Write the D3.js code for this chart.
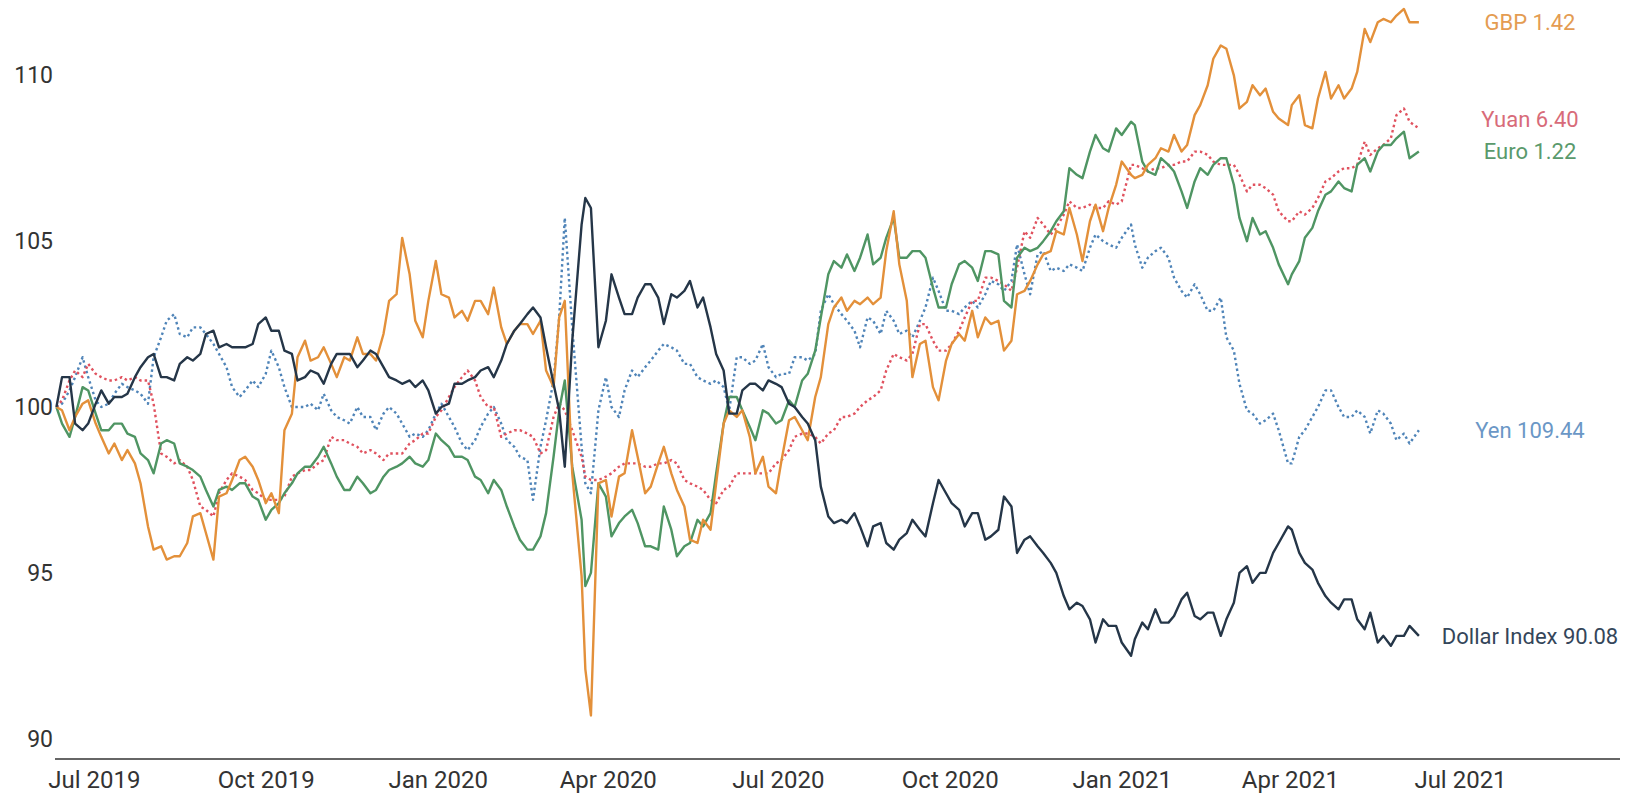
<!DOCTYPE html>
<html>
<head>
<meta charset="utf-8">
<script src="https://cdn.jsdelivr.net/npm/d3@7"></script>
<style>
  body { margin: 0; background: #fff; }
  svg text { font-family: "Source Sans Pro", Roboto, "Noto Sans", sans-serif; }
</style>
</head>
<body>
<script>
// sample dates: Tuesdays and Fridays, plus a few extra days around the big moves
var dates = [
  '2019-06-11',
  '2019-06-14',
  '2019-06-18', '2019-06-21', '2019-06-25', '2019-06-28', '2019-07-02', '2019-07-05', '2019-07-09', '2019-07-12', '2019-07-16', '2019-07-19', '2019-07-23', '2019-07-26',
  '2019-07-30', '2019-08-02', '2019-08-06', '2019-08-09', '2019-08-13', '2019-08-16', '2019-08-20', '2019-08-23', '2019-08-27', '2019-08-30',
  '2019-09-03', '2019-09-06', '2019-09-10', '2019-09-13', '2019-09-17', '2019-09-20', '2019-09-24', '2019-09-27',
  '2019-10-01', '2019-10-04', '2019-10-08', '2019-10-11', '2019-10-15', '2019-10-18', '2019-10-22', '2019-10-25',
  '2019-10-29', '2019-11-01', '2019-11-05', '2019-11-08', '2019-11-12', '2019-11-15', '2019-11-19', '2019-11-22', '2019-11-26', '2019-11-29',
  '2019-12-03', '2019-12-06', '2019-12-10', '2019-12-13', '2019-12-17', '2019-12-20', '2019-12-24', '2019-12-27', '2019-12-31',
  '2020-01-03', '2020-01-07', '2020-01-10', '2020-01-14', '2020-01-17', '2020-01-21', '2020-01-24', '2020-01-28', '2020-01-31',
  '2020-02-04', '2020-02-07', '2020-02-11', '2020-02-14', '2020-02-18', '2020-02-21', '2020-02-25', '2020-02-28',
  '2020-03-03', '2020-03-06', '2020-03-09', '2020-03-13', '2020-03-18', '2020-03-20', '2020-03-23', '2020-03-27',
  '2020-03-31', '2020-04-03', '2020-04-07', '2020-04-10', '2020-04-14', '2020-04-17', '2020-04-21', '2020-04-24',
  '2020-04-28', '2020-05-01', '2020-05-05', '2020-05-08', '2020-05-12', '2020-05-15', '2020-05-19', '2020-05-22', '2020-05-26', '2020-05-29',
  '2020-06-02', '2020-06-05', '2020-06-09', '2020-06-12', '2020-06-16', '2020-06-19', '2020-06-23', '2020-06-26',
  '2020-06-30', '2020-07-03', '2020-07-07', '2020-07-10', '2020-07-14', '2020-07-17', '2020-07-21', '2020-07-24', '2020-07-28', '2020-07-31',
  '2020-08-04', '2020-08-07', '2020-08-11', '2020-08-14', '2020-08-18', '2020-08-21', '2020-08-25', '2020-08-28',
  '2020-09-01', '2020-09-04', '2020-09-08', '2020-09-11', '2020-09-15', '2020-09-18', '2020-09-22', '2020-09-25',
  '2020-09-29', '2020-10-02', '2020-10-06', '2020-10-09', '2020-10-13', '2020-10-16', '2020-10-20', '2020-10-23', '2020-10-27', '2020-10-30',
  '2020-11-03', '2020-11-06', '2020-11-10', '2020-11-13', '2020-11-17', '2020-11-20', '2020-11-24', '2020-11-27',
  '2020-12-01', '2020-12-04', '2020-12-08', '2020-12-11', '2020-12-15', '2020-12-18', '2020-12-22', '2020-12-25', '2020-12-29',
  '2021-01-01', '2021-01-06', '2021-01-08', '2021-01-12', '2021-01-15', '2021-01-19', '2021-01-22', '2021-01-26', '2021-01-29',
  '2021-02-02', '2021-02-05', '2021-02-09', '2021-02-12', '2021-02-16', '2021-02-19', '2021-02-23', '2021-02-26',
  '2021-03-02', '2021-03-05', '2021-03-09', '2021-03-12', '2021-03-16', '2021-03-19', '2021-03-23', '2021-03-26', '2021-03-31',
  '2021-04-02', '2021-04-06', '2021-04-09', '2021-04-13', '2021-04-16', '2021-04-20', '2021-04-23', '2021-04-27', '2021-04-30',
  '2021-05-04', '2021-05-07', '2021-05-11', '2021-05-14', '2021-05-18', '2021-05-21', '2021-05-25', '2021-05-28',
  '2021-06-01', '2021-06-04', '2021-06-09'
];

// all series indexed to 100 at the start
var dollar = [
  100,
  100.9,
  100.9, 99.5, 99.3, 99.5, 100.1, 100.5, 100.1, 100.3, 100.3, 100.4, 100.9, 101.2,
  101.5, 101.6, 100.9, 100.9, 100.8, 101.3, 101.5, 101.4, 101.6, 102.2,
  102.3, 101.8, 101.9, 101.8, 101.8, 101.8, 101.9, 102.5,
  102.7, 102.3, 102.3, 101.7, 101.6, 100.8, 100.9, 101.1,
  101.0, 100.7, 101.3, 101.6, 101.6, 101.6, 101.2, 101.4, 101.7, 101.6,
  101.2, 100.9, 100.8, 100.7, 100.8, 100.6, 100.8, 100.5, 99.8,
  100.0, 100.1, 100.7, 100.7, 100.8, 100.9, 101.1, 101.2, 100.9,
  101.4, 101.9, 102.3, 102.5, 102.8, 103.0, 102.7, 101.8,
  100.7, 99.9, 98.2, 102.0, 105.5, 106.3, 106.0, 101.8,
  102.6, 104.0, 103.3, 102.8, 102.8, 103.3, 103.7, 103.7,
  103.3, 102.5, 103.4, 103.3, 103.5, 103.8, 103.0, 103.3, 102.4, 101.6,
  101.1, 99.8, 99.8, 100.5, 100.7, 100.7, 100.5, 100.8,
  100.7, 100.6, 100.1, 100.0, 99.7, 99.5, 99.0, 97.6, 96.7, 96.5,
  96.6, 96.5, 96.8, 96.4, 95.8, 96.4, 96.5, 95.9,
  95.7, 96.0, 96.2, 96.6, 96.3, 96.1, 97.1, 97.8,
  97.4, 97.1, 96.9, 96.4, 96.8, 96.8, 96.0, 96.1, 96.3, 97.3,
  97.0, 95.6, 96.0, 96.1, 95.8, 95.6, 95.3, 95.0,
  94.3, 93.9, 94.1, 94.0, 93.6, 92.9, 93.6, 93.4, 93.4,
  92.9, 92.5, 93.0, 93.5, 93.3, 93.9, 93.5, 93.5, 93.7,
  94.2, 94.4, 93.7, 93.6, 93.8, 93.8, 93.1, 93.6,
  94.1, 95.0, 95.2, 94.7, 95.0, 95.0, 95.6, 95.9, 96.4,
  96.3, 95.6, 95.3, 95.1, 94.7, 94.3, 94.1, 93.9, 94.2,
  94.2, 93.6, 93.3, 93.8, 92.9, 93.1, 92.8, 93.1,
  93.1, 93.4, 93.1
];

var gbp = [
  100,
  99.9,
  99.3, 99.7, 100.1, 100.2, 99.5, 99.1, 98.6, 98.9, 98.4, 98.7, 98.3, 97.7,
  96.4, 95.7, 95.8, 95.4, 95.5, 95.5, 95.9, 96.7, 96.8, 96.2,
  95.4, 97.3, 97.4, 97.8, 98.4, 98.5, 98.2, 97.8,
  97.1, 97.4, 96.8, 99.3, 99.8, 101.5, 102.0, 101.4,
  101.5, 101.8, 101.3, 100.9, 101.5, 101.4, 102.1, 101.6, 101.6, 101.4,
  102.2, 103.2, 103.4, 105.1, 104.0, 102.6, 102.1, 103.2, 104.4,
  103.4, 103.3, 102.7, 102.9, 102.6, 103.2, 103.2, 102.8, 103.6,
  102.4, 101.9, 102.3, 102.5, 102.5, 102.2, 102.6, 101.1,
  100.6, 102.7, 103.2, 98.0, 94.9, 92.1, 90.7, 97.7,
  97.8, 96.7, 97.9, 98.0, 99.3, 98.5, 97.4, 97.6,
  98.3, 98.8, 98.0, 97.5, 97.0, 96.0, 95.9, 96.6, 96.3, 97.7,
  99.5, 99.9, 99.7, 99.9, 99.1, 98.0, 98.5, 97.6,
  97.4, 98.4, 99.6, 99.7, 99.3, 99.0, 100.3, 100.9, 102.5, 103.0,
  103.3, 102.9, 103.2, 103.1, 103.3, 103.1, 103.3, 104.7,
  105.9, 104.3, 103.2, 100.9, 101.9, 102.0, 100.6, 100.2,
  101.4, 101.9, 102.2, 102.0, 102.9, 102.1, 102.7, 102.5, 102.6, 101.7,
  102.0, 103.4, 103.5, 103.8, 104.3, 104.6, 104.7, 105.3,
  105.2, 106.0, 105.2, 104.4, 105.6, 106.1, 105.3, 106.0, 106.7,
  107.4, 107.0, 106.9, 107.0, 107.3, 107.5, 107.8, 107.7, 108.2,
  107.7, 107.9, 108.8, 109.1, 109.7, 110.5, 110.9, 110.8,
  110.0, 109.0, 109.2, 109.7, 109.4, 109.6, 108.9, 108.7, 108.5,
  109.1, 109.4, 108.5, 108.4, 109.3, 110.1, 109.3, 109.7, 109.3,
  109.6, 110.1, 111.4, 111.0, 111.6, 111.7, 111.6, 111.8,
  112.0, 111.6, 111.6
];

var euro = [
  100,
  99.5,
  99.1, 99.7, 100.6, 100.5, 99.8, 99.3, 99.3, 99.5, 99.5, 99.2, 99.1, 98.6,
  98.4, 98.0, 98.9, 99.0, 98.9, 98.3, 98.2, 98.1, 97.9, 97.5,
  97.0, 97.5, 97.6, 97.5, 97.7, 97.7, 97.3, 97.2,
  96.6, 96.9, 97.1, 97.4, 97.7, 98.0, 98.2, 98.2,
  98.5, 98.8, 98.3, 97.9, 97.5, 97.5, 97.9, 97.7, 97.4, 97.5,
  97.9, 98.1, 98.2, 98.3, 98.5, 98.3, 98.2, 98.4, 99.2,
  99.0, 98.8, 98.5, 98.5, 98.4, 97.9, 97.8, 97.4, 97.8,
  97.5, 97.0, 96.4, 96.0, 95.7, 95.7, 96.1, 96.8,
  98.5, 99.9, 100.8, 98.2, 96.6, 94.6, 95.0, 97.7,
  97.3, 96.1, 96.5, 96.7, 96.9, 96.5, 95.8, 95.8,
  95.7, 97.0, 96.3, 95.5, 95.8, 95.9, 96.6, 96.4, 96.8, 98.0,
  99.5, 100.3, 100.3, 99.9, 99.4, 99.0, 99.9, 99.8,
  99.5, 99.6, 100.2, 100.0, 100.8, 101.0, 101.7, 102.7, 104.0, 104.4,
  104.2, 104.6, 104.1, 104.5, 105.2, 104.3, 104.5, 105.1,
  105.7, 104.5, 104.5, 104.7, 104.7, 104.5, 103.6, 103.0,
  103.0, 103.7, 104.3, 104.4, 104.2, 103.8, 104.7, 104.7, 104.6, 103.2,
  103.0, 104.5, 104.8, 104.7, 104.8, 105.0, 105.3, 105.6,
  105.9, 107.2, 107.0, 106.9, 107.7, 108.2, 107.8, 107.7, 108.4,
  108.2, 108.6, 108.5, 107.4, 107.1, 107.0, 107.5, 107.3, 107.1,
  106.5, 106.0, 106.8, 107.2, 107.0, 107.3, 107.5, 107.5,
  106.7, 105.7, 105.0, 105.7, 105.2, 105.3, 104.8, 104.3, 103.7,
  104.0, 104.4, 105.1, 105.4, 105.9, 106.4, 106.5, 106.8, 106.6,
  106.5, 107.3, 107.5, 107.1, 107.7, 107.9, 107.9, 108.1,
  108.3, 107.5, 107.7
];

var yuan = [
  100,
  100.2,
  100.8, 101.1, 100.9, 101.3, 101.0, 100.9, 100.8, 100.8, 100.9, 100.8, 100.9, 100.8,
  100.8, 100.1, 98.6, 98.5, 98.3, 98.4, 98.2, 97.8, 97.0, 96.9,
  96.7, 97.4, 97.8, 98.0, 97.9, 97.8, 97.5, 97.4,
  97.2, 97.2, 97.2, 97.3, 97.9, 98.0, 98.1, 98.1,
  98.3, 98.4, 99.1, 99.0, 99.0, 98.9, 98.8, 98.6, 98.7, 98.6,
  98.4, 98.6, 98.6, 98.6, 98.9, 99.0, 99.2, 99.2, 99.7,
  99.9, 100.3, 100.6, 100.9, 101.1, 100.8, 100.3, 100.0, 100.0,
  99.1, 99.2, 99.3, 99.3, 99.2, 99.1, 98.6, 98.7,
  99.7, 100.1, 99.9, 99.3, 98.5, 97.9, 97.8, 97.8,
  97.9, 98.0, 98.2, 98.3, 98.3, 98.3, 98.2, 98.2,
  98.3, 98.3, 98.4, 98.3, 97.8, 97.7, 97.6, 97.5, 97.2, 97.1,
  97.5, 97.6, 98.0, 98.0, 98.0, 98.0, 98.0, 98.0,
  98.3, 98.4, 98.7, 99.1, 99.2, 99.2, 99.1, 98.9, 99.2, 99.3,
  99.7, 99.7, 99.8, 100.0, 100.2, 100.3, 100.5, 101.1,
  101.6, 101.5, 101.4, 101.6, 102.5, 102.5, 102.0, 101.7,
  101.7, 101.9, 102.3, 102.7, 103.2, 103.2, 103.9, 103.9, 103.8, 103.7,
  103.5, 104.2, 105.3, 105.1, 105.7, 105.5, 105.2, 105.4,
  105.8, 106.2, 106.0, 106.0, 106.1, 106.0, 106.0, 106.2, 106.1,
  106.2, 107.3, 107.3, 107.2, 107.1, 107.2, 107.2, 107.3, 107.3,
  107.4, 107.4, 107.7, 107.7, 107.6, 107.4, 107.3, 107.3,
  107.3, 107.0, 106.5, 106.7, 106.7, 106.6, 106.4, 105.9, 105.6,
  105.6, 105.9, 105.8, 106.0, 106.3, 106.8, 106.9, 107.1, 107.2,
  107.2, 107.3, 108.0, 107.6, 107.8, 107.9, 108.1, 108.8,
  109.0, 108.6, 108.4
];

var yen = [
  100,
  100.1,
  100.5, 100.9, 101.5, 100.9, 100.2, 100.0, 100.1, 100.4, 100.7, 100.6, 100.5, 100.4,
  100.1, 101.5, 102.1, 102.6, 102.8, 102.2, 102.1, 102.4, 102.4, 102.2,
  101.9, 101.6, 101.2, 100.6, 100.3, 100.5, 100.8, 100.6,
  101.0, 101.7, 101.2, 100.6, 100.0, 100.0, 100.0, 100.1,
  99.9, 100.4, 99.9, 99.7, 99.6, 99.5, 100.0, 99.7, 99.7, 99.3,
  99.8, 100.0, 99.8, 99.5, 99.1, 99.2, 99.1, 99.3, 99.8,
  100.1, 99.7, 99.4, 98.9, 98.7, 99.0, 99.4, 99.8, 100.0,
  99.5, 99.0, 98.8, 98.5, 98.4, 97.2, 98.8, 99.6,
  100.8, 102.7, 105.7, 102.4, 98.8, 97.7, 97.4, 99.9,
  100.9, 100.0, 99.7, 100.5, 101.1, 100.9, 101.2, 101.4,
  101.7, 101.9, 101.8, 101.7, 101.3, 101.3, 100.9, 100.8, 100.7, 100.8,
  100.6, 99.9, 101.5, 101.5, 101.3, 101.4, 101.9, 101.2,
  100.9, 101.0, 101.0, 101.5, 101.5, 101.4, 101.6, 102.9, 103.4, 103.1,
  102.8, 102.6, 102.3, 101.8, 102.7, 102.6, 102.2, 102.9,
  102.6, 102.2, 102.3, 102.1, 102.6, 103.0, 103.9, 103.5,
  102.9, 102.9, 102.8, 103.0, 103.2, 103.0, 103.4, 103.8, 103.7, 103.5,
  103.8, 104.9, 104.0, 103.4, 104.6, 104.7, 104.1, 104.2,
  104.1, 104.3, 104.2, 104.1, 104.8, 105.2, 105.0, 104.9, 104.8,
  105.1, 105.5, 104.9, 104.2, 104.5, 104.7, 104.8, 104.5, 103.9,
  103.5, 103.3, 103.7, 103.4, 102.9, 102.9, 103.3, 102.1,
  101.7, 100.7, 99.9, 99.8, 99.5, 99.6, 99.8, 99.3, 98.3,
  98.3, 99.1, 99.3, 99.7, 100.0, 100.5, 100.5, 100.0, 99.7,
  99.7, 99.9, 99.7, 99.2, 99.9, 99.8, 99.5, 99.0,
  99.2, 98.9, 99.3
];

var seriesNames = ['Yen', 'Yuan', 'Euro', 'GBP', 'Dollar Index'];
var lastQuotes = ['109.44', '6.40', '1.22', '1.42', '90.08'];
var yTicks = [90, 95, 100, 105, 110];
var xTicks = ['2019-07-01', '2019-10-01', '2020-01-01', '2020-04-01', '2020-07-01',
  '2020-10-01', '2021-01-01', '2021-04-01', '2021-07-01'];

var styles = {
  'Yen':          { color: '#4f84b8', label: '#6b97c6', dash: '2.5,3' },
  'Yuan':         { color: '#e0525f', label: '#d86b79', dash: '2.5,3' },
  'Euro':         { color: '#4f9563', label: '#5a9a6c', dash: null },
  'GBP':          { color: '#e3903a', label: '#e49c52', dash: null },
  'Dollar Index': { color: '#253648', label: '#34465a', dash: null }
};

var values = { 'Yen': yen, 'Yuan': yuan, 'Euro': euro, 'GBP': gbp, 'Dollar Index': dollar };

var width = 1632, height = 796;
var parse = d3.timeParse('%Y-%m-%d');

var svg = d3.select('body').append('svg')
  .attr('width', width)
  .attr('height', height);

var x = d3.scaleTime()
  .domain([parse('2019-07-01'), parse('2021-07-01')])
  .range([93.8, 1460]);

var y = d3.scaleLinear()
  .domain([90, 110])
  .range([738.7, 75.3]);

// baseline
svg.append('line')
  .attr('x1', 55).attr('x2', 1620)
  .attr('y1', 759).attr('y2', 759)
  .attr('stroke', '#666')
  .attr('stroke-width', 2);

// x axis labels
var xAxis = svg.append('g')
  .attr('transform', 'translate(0,759)')
  .call(d3.axisBottom(x)
    .tickValues(xTicks.map(parse))
    .tickFormat(d3.timeFormat('%b %Y'))
    .tickSize(0));
xAxis.select('.domain').remove();
xAxis.selectAll('text')
  .attr('y', 21)
  .attr('dy', '0.35em')
  .attr('fill', '#333')
  .style('font-size', '24px');

// y axis labels
var yAxis = svg.append('g')
  .attr('transform', 'translate(53,0)')
  .call(d3.axisLeft(y).tickValues(yTicks).tickSize(0).tickPadding(0));
yAxis.select('.domain').remove();
yAxis.selectAll('text')
  .attr('fill', '#333')
  .style('font-size', '23px');

var line = d3.line()
  .x(function (d) { return x(d.date); })
  .y(function (d) { return y(d.value); });

var series = seriesNames.map(function (name) {
  return {
    name: name,
    points: dates.map(function (d, i) { return { date: parse(d), value: values[name][i] }; })
  };
});

svg.selectAll('.series')
  .data(series)
  .enter()
  .append('path')
    .attr('class', 'series')
    .attr('fill', 'none')
    .attr('stroke', function (d) { return styles[d.name].color; })
    .attr('stroke-width', 2.4)
    .attr('stroke-linejoin', 'round')
    .attr('stroke-dasharray', function (d) { return styles[d.name].dash; })
    .attr('d', function (d) { return line(d.points); });

// end labels, nudged apart where they would collide
var labels = series.map(function (d, i) {
  var last = d.points[d.points.length - 1];
  return { name: d.name, text: d.name + ' ' + lastQuotes[i], y: y(last.value) };
});
labels.sort(function (a, b) { return b.y - a.y; });
for (var i = 1; i < labels.length; i++) {
  if (labels[i - 1].y - labels[i].y < 32) labels[i].y = labels[i - 1].y - 32;
}

svg.selectAll('.end-label')
  .data(labels)
  .enter()
  .append('text')
    .attr('class', 'end-label')
    .attr('x', 1530)
    .attr('y', function (d) { return d.y; })
    .attr('dy', '0.35em')
    .attr('text-anchor', 'middle')
    .attr('fill', function (d) { return styles[d.name].label; })
    .style('font-size', '22px')
    .text(function (d) { return d.text; });
</script>
</body>
</html>
